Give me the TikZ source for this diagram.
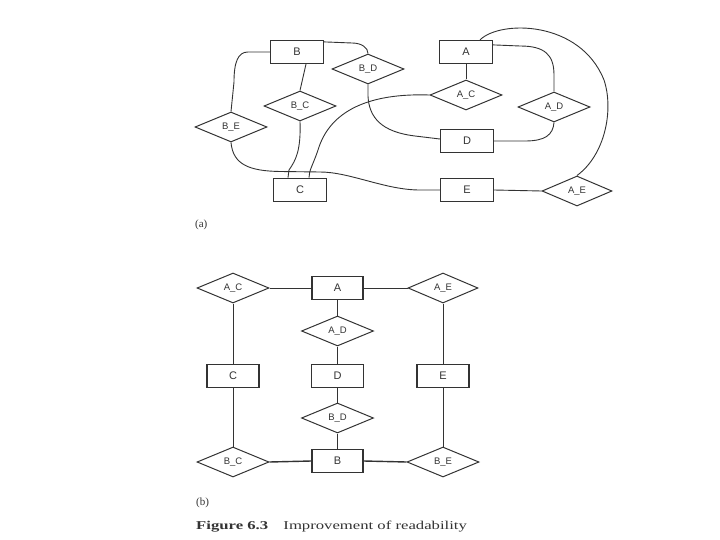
\documentclass[tikz,border=0pt]{standalone}
\usepackage{fontspec}
\setmainfont{Liberation Serif}
\newfontfamily\lblfont{Liberation Sans}
\usetikzlibrary{shapes.geometric,calc}
\definecolor{ink}{HTML}{333333}
\tikzset{
  ent/.style={draw=ink, line width=1.2pt, rectangle, minimum width=53pt, minimum height=23pt, inner sep=0pt, text=ink, font=\lblfont\fontsize{11}{12}\selectfont},
  rel/.style={draw=ink, line width=1pt, diamond, minimum width=72pt, minimum height=30pt, inner sep=0pt, text=ink, font=\lblfont\fontsize{9.5}{10}\selectfont},
  conn/.style={draw=ink, line width=0.9pt},
  bold conn/.style={draw=ink, line width=1.4pt},
  tag/.style={anchor=west, inner sep=0pt, text=ink, font=\fontsize{11}{12}\selectfont}
}
\begin{document}
\begin{tikzpicture}[x=1pt, y=-1pt]
\useasboundingbox (0,0) rectangle (720,540);
% ---------- (a) ----------
\node[ent] (B) at (297,52) {B};
\node[rel] (BD) at (368,69) {B\_D};
\node[rel] (BC) at (300,106) {B\_C};
\node[rel] (BE) at (231,127) {B\_E};
\node[ent, line width=1.7pt] (C) at (300,190) {C};
\node[ent] (A) at (466,52) {A};
\node[rel] (AC) at (466,95) {A\_C};
\node[rel] (AD) at (554,107) {A\_D};
\node[ent] (D) at (467,141) {D};
\node[ent] (E) at (467,190) {E};
\node[rel, minimum width=70pt] (AE) at (577,191) {A\_E};

\draw[conn] (B.west) -- (248,52) .. controls (238,52) and (234,62) .. (234,82) -- (BE.north);
\draw[conn] ($(B.south)+(9,0)$) -- (BC.north);
\draw[conn] ($(B.north east)+(0,2)$) -- (352,43) .. controls (362,43) and (368,48) .. (BD.north);
\draw[conn] (BD.south) -- (368,96) .. controls (369,118) and (382,132) .. (415,136) -- ($(D.west)+(0,-2)$);
\draw[conn] (AC.west) .. controls (370,93) and (330,110) .. (318,150) .. controls (313,165) and (309,170) .. ($(C.north)+(9,0)$);
\draw[conn] (BC.south) .. controls (301,150) and (296,160) .. (289,170) -- ($(C.north)+(-12,0)$);
\draw[conn] (BE.south) .. controls (233,165) and (250,171) .. (280,171.5) -- (320,172) .. controls (350,172) and (385,190) .. (420,190) -- (E.west);
\draw[conn] (A.south) -- (AC.north);
\draw[conn] ($(A.north east)+(0,5)$) -- (520,46) .. controls (545,46) and (554,55) .. (554,75) -- (AD.north);
\draw[conn] (AD.south) .. controls (553,135) and (545,141) .. (525,141) -- (D.east);
\draw[conn] ($(A.north)+(14,0)$) .. controls (500,20) and (580,20) .. (604,80) .. controls (614,110) and (605,155) .. (AE.north);
\draw[conn] (AE.west) -- (E.east);
\node[tag] (la) at (195,225) {(a)};
% ---------- (b) ----------
\node[rel] (AC2) at (233,288) {A\_C};
\node[ent, minimum width=51pt] (A2) at (337.5,288) {A};
\node[rel, minimum width=70pt] (AE2) at (443,288) {A\_E};
\node[rel] (AD2) at (337.5,331) {A\_D};
\node[ent, minimum width=52pt] (C2) at (233,376) {C};
\node[ent, minimum width=52pt] (D2) at (337.5,376) {D};
\node[ent, minimum width=52pt] (E2) at (443,376) {E};
\node[rel] (BD2) at (337.5,418) {B\_D};
\node[rel] (BC2) at (233,462) {B\_C};
\node[ent, minimum width=51pt] (B2) at (337.5,461) {B};
\node[rel] (BE2) at (443,462) {B\_E};

\draw[conn] (AC2.east) -- (A2.west);
\draw[conn] (A2.east) -- (AE2.west);
\draw[conn] (AC2.south) -- (C2.north);
\draw[conn] (C2.south) -- (BC2.north);
\draw[conn] (AE2.south) -- (E2.north);
\draw[conn] (E2.south) -- (BE2.north);
\draw[conn] (A2.south) -- (AD2.north);
\draw[conn] (AD2.south) -- (D2.north);
\draw[conn] (D2.south) -- (BD2.north);
\draw[conn] (BD2.south) -- (B2.north);
\draw[bold conn] (BC2.east) -- (B2.west);
\draw[bold conn] (B2.east) -- (BE2.west);
\node[tag] (lb) at (196,503) {(b)};
\node[tag, font=\fontsize{12}{13}\selectfont] (cap) at (196,526.5) {\scalebox{1.39}[1]{\textbf{Figure 6.3}\hspace{11pt}Improvement of readability}};
\end{tikzpicture}
\end{document}
